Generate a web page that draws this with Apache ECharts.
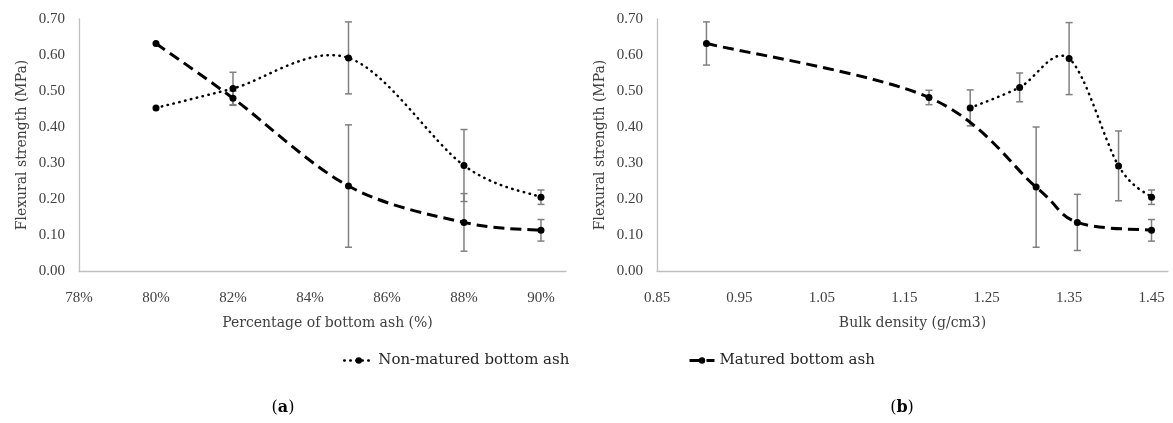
<!DOCTYPE html>
<html><head><meta charset="utf-8">
<script src="https://cdn.jsdelivr.net/npm/echarts@6/dist/echarts.min.js"></script>
<style>html,body{margin:0;padding:0;background:#fff}#c{width:1173px;height:423px}</style>
</head><body><div id="c"></div>
<script>
// ---- (a) Percentage of bottom ash ----
const pctX = [80, 82, 85, 88, 90];
const nonMaturedA = [0.453, 0.507, 0.592, 0.293, 0.205];
const nonMaturedAErr = [null, 0.045, 0.10, 0.10, 0.02];
const maturedA = [0.632, 0.480, 0.236, 0.135, 0.113];
const maturedAErr = [null, 0.02, 0.17, 0.08, 0.03];
// ---- (b) Bulk density ----
const densNonMatured = [1.23, 1.29, 1.35, 1.41, 1.45];
const nonMaturedB = [0.453, 0.510, 0.590, 0.292, 0.205];
const nonMaturedBErr = [0.05, 0.04, 0.10, 0.097, 0.02];
const densMatured = [0.91, 1.18, 1.31, 1.36, 1.45];
const maturedB = [0.632, 0.482, 0.233, 0.135, 0.113];
const maturedBErr = [0.06, 0.02, 0.167, 0.078, 0.03];
// ---- texts ----
const yTitle = 'Flexural strength (MPa)';
const xTitleA = 'Percentage of bottom ash (%)';
const xTitleB = 'Bulk density (g/cm3)';
const nameNon = 'Non-matured bottom ash';
const nameMat = 'Matured bottom ash';

const tickFont = {fontFamily:'Liberation Serif', fontSize:15, color:'#404040'};
const titleFont = {fontFamily:'DejaVu Serif', fontSize:14, color:'#404040'};
const axLine = {show:true, lineStyle:{color:'#bfbfbf', width:1.3}};

function yAxis(g){
  return {type:'value', gridIndex:g, min:0, max:0.7, interval:0.1,
    name:yTitle, nameLocation:'middle', nameGap:50, nameTextStyle:titleFont,
    axisLine:axLine, axisTick:{show:false}, splitLine:{show:false},
    axisLabel:Object.assign({margin:14, formatter:v=>v.toFixed(2)}, tickFont)};
}
function pts(xs, ys, k){ return xs.map((x,i)=>[x*k, ys[i]]); }
function errs(xs, ys, es, k){ const o=[]; xs.forEach((x,i)=>{ if(es[i]!=null) o.push([x*k, ys[i], es[i]]); }); return o; }
function renderErr(params, api){
  const x=api.value(0), y=api.value(1), e=api.value(2);
  const t=api.coord([x,y+e]), b=api.coord([x,y-e]);
  const hw=3.5, st={stroke:'#808080', lineWidth:1.5};
  return {type:'group', children:[
    {type:'line', shape:{x1:t[0],y1:t[1],x2:b[0],y2:b[1]}, style:st},
    {type:'line', shape:{x1:t[0]-hw,y1:t[1],x2:t[0]+hw,y2:t[1]}, style:st},
    {type:'line', shape:{x1:b[0]-hw,y1:b[1],x2:b[0]+hw,y2:b[1]}, style:st}]};
}
const dotLegend = {color:'#000', width:2.5, type:[0.5,5.5], cap:'round', opacity:1};
const dashLegend = {color:'#000', width:3, type:[11,6], opacity:1};
const dotPath = {stroke:'#000', lineWidth:2.5, lineDash:[0.5,5.5], lineCap:'round'};
const dashPath = {stroke:'#000', lineWidth:3, lineDash:[11,6]};

// markers (line itself drawn by the smoothed curve series below)
function markers(name, data, g, ls){
  return {type:'line', name, data, xAxisIndex:g, yAxisIndex:g,
    symbol:'circle', symbolSize:7, itemStyle:{color:'#000'},
    lineStyle:Object.assign({}, ls, {opacity:0}), z:4, animation:false};
}
// smoothed curve (Catmull-Rom style, as in spreadsheet smoothed lines), positioned through the axes
function curve(data, g, style){
  return {type:'custom', data, xAxisIndex:g, yAxisIndex:g, z:3, silent:true, animation:false,
    renderItem:(params, api)=>{
      if(params.dataIndex!==0) return {type:'group', children:[]};
      const P = data.map(d=>api.coord(d));
      let d = 'M'+P[0][0]+' '+P[0][1];
      for(let i=0;i<P.length-1;i++){
        const p0=P[Math.max(i-1,0)], p1=P[i], p2=P[i+1], p3=P[Math.min(i+2,P.length-1)];
        const c1=[p1[0]+(p2[0]-p0[0])/6, p1[1]+(p2[1]-p0[1])/6];
        const c2=[p2[0]-(p3[0]-p1[0])/6, p2[1]-(p3[1]-p1[1])/6];
        d += ' C'+c1[0]+' '+c1[1]+' '+c2[0]+' '+c2[1]+' '+p2[0]+' '+p2[1];
      }
      return {type:'path', shape:{pathData:d}, style:Object.assign({fill:null}, style)};
    }};
}
function errSeries(data, g){
  return {type:'custom', data, xAxisIndex:g, yAxisIndex:g, renderItem:renderErr, z:1, animation:false, silent:true};
}

const aNon = pts(pctX, nonMaturedA, 1), aMat = pts(pctX, maturedA, 1);
const bNon = pts(densNonMatured, nonMaturedB, 100), bMat = pts(densMatured, maturedB, 100);

const chart = echarts.init(document.getElementById('c'), null, {renderer:'canvas'});
chart.setOption({
  backgroundColor:'#fff',
  animation:false,
  grid:[{left:79, top:19, width:487, height:252}, {left:657, top:19, width:511, height:252}],
  xAxis:[
    {type:'value', gridIndex:0, min:78, max:90.65, interval:2,
      name:xTitleA, nameLocation:'middle', nameGap:45, nameTextStyle:Object.assign({padding:[0,0,0,10]}, titleFont),
      axisLine:axLine, axisTick:{show:false}, splitLine:{show:false},
      axisLabel:Object.assign({margin:20, showMaxLabel:false, formatter:v=>Math.round(v)+'%'}, tickFont)},
    {type:'value', gridIndex:1, min:85, max:147, interval:10,
      name:xTitleB, nameLocation:'middle', nameGap:45, nameTextStyle:titleFont,
      axisLine:axLine, axisTick:{show:false}, splitLine:{show:false},
      axisLabel:Object.assign({margin:20, showMaxLabel:false, formatter:v=>(v/100).toFixed(2)}, tickFont)}
  ],
  yAxis:[yAxis(0), yAxis(1)],
  legend:[
    {data:[nameNon], left:343, top:353, padding:0, itemWidth:29, itemHeight:8, itemGap:0, lineStyle:dotLegend,
      textStyle:{fontFamily:'DejaVu Serif', fontSize:15, color:'#262626'}},
    {data:[nameMat], left:688, top:353, padding:0, itemWidth:25, itemHeight:8, itemGap:0, lineStyle:dashLegend,
      textStyle:{fontFamily:'DejaVu Serif', fontSize:15, color:'#262626'}}
  ],
  graphic:[
    {type:'text', x:283, y:408, style:{text:'{n|(}{b|a}{n|)}', align:'center', verticalAlign:'middle',
      rich:{n:{fontFamily:'DejaVu Serif', fontSize:16, color:'#000'}, b:{fontFamily:'DejaVu Serif', fontSize:16, fontWeight:'bold', color:'#000'}}}},
    {type:'text', x:902, y:408, style:{text:'{n|(}{b|b}{n|)}', align:'center', verticalAlign:'middle',
      rich:{n:{fontFamily:'DejaVu Serif', fontSize:16, color:'#000'}, b:{fontFamily:'DejaVu Serif', fontSize:16, fontWeight:'bold', color:'#000'}}}}
  ],
  series:[
    errSeries(errs(pctX, nonMaturedA, nonMaturedAErr, 1), 0),
    errSeries(errs(pctX, maturedA, maturedAErr, 1), 0),
    curve(aNon, 0, dotPath),
    curve(aMat, 0, dashPath),
    markers(nameNon, aNon, 0, dotLegend),
    markers(nameMat, aMat, 0, dashLegend),
    errSeries(errs(densNonMatured, nonMaturedB, nonMaturedBErr, 100), 1),
    errSeries(errs(densMatured, maturedB, maturedBErr, 100), 1),
    curve(bNon, 1, dotPath),
    curve(bMat, 1, dashPath),
    markers(nameNon, bNon, 1, dotLegend),
    markers(nameMat, bMat, 1, dashLegend)
  ]
});
</script></body></html>
